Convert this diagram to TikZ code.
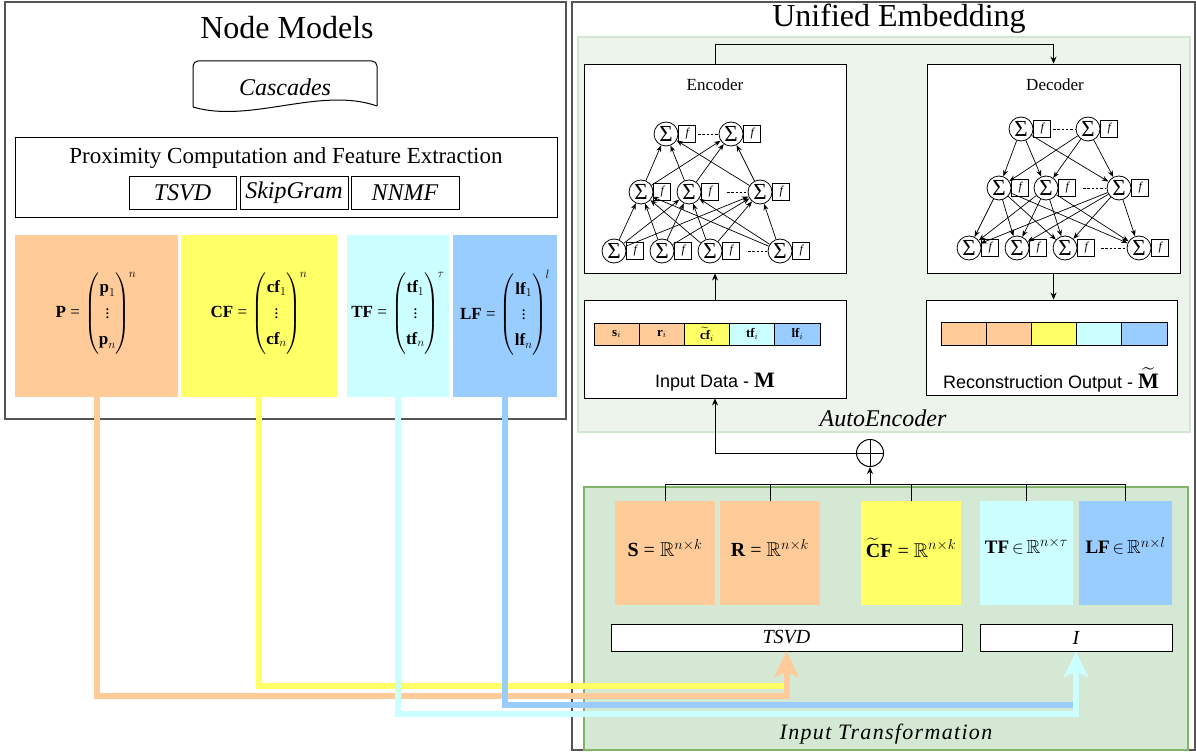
\documentclass[tikz,border=0pt]{standalone}
\usepackage{amsmath,amssymb}
\usepackage{fontspec}
\setmainfont{Liberation Serif}
\setsansfont{Liberation Sans}
\usetikzlibrary{arrows.meta}

\definecolor{cOr}{HTML}{FFCC99}
\definecolor{cYe}{HTML}{FFFF66}
\definecolor{cCy}{HTML}{CCFFFF}
\definecolor{cBl}{HTML}{99CCFF}
\definecolor{aeFill}{HTML}{ECF4EB}
\definecolor{aeLine}{HTML}{D2E5D0}
\definecolor{itFill}{HTML}{D5E8D4}
\definecolor{itLine}{HTML}{82B366}
\definecolor{frameGray}{HTML}{555555}

% rectangle node given by its corners: [style]{name}{x1}{y1}{x2}{y2}{text}
\newcommand\mybox[7][]{%
  \pgfmathsetmacro\mbW{#5-#3}%
  \pgfmathsetmacro\mbH{#6-#4}%
  \pgfmathsetmacro\mbX{(#3+#5)/2}%
  \pgfmathsetmacro\mbY{(#4+#6)/2}%
  \node[inner sep=0pt, minimum width=\mbW pt, minimum height=\mbH pt, #1] (#2) at (\mbX,\mbY) {#7};}

% summation unit followed by its activation box
\newcommand\snode[3]{%
  \node[sig] (#1) at (#2,#3) {Σ};
  \node[fbx] (#1f) at (#1.east) {f};}

\newcommand\bM{\textrm{\textbf{M}}}
\newcommand\eqs{\text{ = }}
% column vector in tight parentheses
\newcommand\colvec[3]{{\renewcommand\arraystretch{1.25}\left(\begin{array}{@{}c@{}}#1\\ \vdots\\ #2\end{array}\right)^{\!#3}}}

\tikzset{
  frame/.style={draw=frameGray, line width=1.3pt},
  plain/.style={draw=black, line width=0.9pt},
  sig/.style={circle, draw, fill=white, line width=0.8pt, minimum size=24pt, inner sep=0pt,
    font=\fontsize{23}{23}\selectfont},
  fbx/.style={draw, line width=0.6pt, minimum width=17pt, minimum height=17pt, inner sep=0pt,
    anchor=west, font=\fontsize{12}{12}\selectfont\itshape},
  nn/.style={-{Stealth[length=6.5pt,width=5pt]}, line width=0.7pt},
  flow/.style={-{Stealth[length=7pt,width=6pt]}, line width=0.9pt},
  dots/.style={line width=0.6pt, dash pattern=on 2.5pt off 1.8pt},
  feed/.style={line width=6pt},
  feedtip/.style={-{Stealth[length=26pt,width=25pt,inset=6pt,line width=0.5pt]}},
  mtx/.style={font=\fontsize{17}{20.5}\selectfont},
  rmtx/.style={font=\fontsize{20}{22}\selectfont},
  cell/.style={draw=black, line width=0.7pt, font=\fontsize{13}{13}\selectfont},
}

\begin{document}
\begin{tikzpicture}[x=1pt,y=-1pt]
\useasboundingbox (0,0) rectangle (1196,754);
\fill[white] (0,0) rectangle (1196,754);

%% ---------------- Node Models ----------------
\mybox[frame]{nm}{5}{2}{566}{419}{}
\node[font=\fontsize{32}{36}\selectfont] (nmT) at (287,28) {Node Models};

% document shape for the cascades
\draw[line width=1pt, rounded corners=5pt] (193,107) -- (193,61) -- (377,61) -- (377,106);
\draw[line width=1pt] (377,106) .. controls (320,86) and (250,124) .. (193,107);
\node[font=\fontsize{24}{28}\selectfont\itshape] (casc) at (285,87) {Cascades};

\mybox[plain]{prox}{15}{137}{557}{217}{}
\node[font=\fontsize{23}{26}\selectfont] (proxT) at (286,158) {Proximity Computation and Feature Extraction};
\mybox[plain, font=\fontsize{24}{26}\selectfont\itshape]{mTsvd}{129}{176}{236}{209}{TSVD}
\mybox[plain, font=\fontsize{24}{26}\selectfont\itshape]{mSkip}{240}{176}{348}{209}{SkipGram}
\mybox[plain, font=\fontsize{24}{26}\selectfont\itshape]{mNnmf}{351}{176}{459}{209}{NNMF}

\mybox[fill=cOr]{P}{15}{235}{178}{397}{}
\mybox[fill=cYe]{CF}{181}{235}{337}{397}{}
\mybox[fill=cCy]{TF}{347}{235}{449}{397}{}
\mybox[fill=cBl]{LF}{453}{235}{557}{397}{}
\node[mtx] (Pm) at (96,313) {$\textbf{P}\eqs\colvec{\textbf{p}_1}{\textbf{p}_n}{n}$};
\node[mtx] (CFm) at (259,313) {$\textbf{CF}\eqs\colvec{\textbf{cf}_1}{\textbf{cf}_n}{n}$};
\node[mtx] (TFm) at (398,313) {$\textbf{TF}\eqs\colvec{\textbf{tf}_1}{\textbf{tf}_n}{\tau}$};
\node[mtx] (LFm) at (505,313) {$\textbf{LF}\eqs\colvec{\textbf{lf}_1}{\textbf{lf}_n}{l}$};

%% ---------------- Unified Embedding ----------------
\mybox[frame]{ue}{572}{2}{1195}{750}{}
\node[font=\fontsize{32}{36}\selectfont] (ueT) at (899,19) {Unified Embedding};

\mybox[draw=aeLine, fill=aeFill, line width=1.5pt]{ae}{578}{37}{1190}{432}{}
\node[font=\fontsize{24}{28}\selectfont\itshape] (aeT) at (883,418) {AutoEncoder};

% encoder
\mybox[plain, fill=white]{enc}{584}{64}{846}{273}{}
\node[font=\fontsize{17}{20}\selectfont] (encT) at (715,85) {Encoder};
\snode{et1}{666}{134}
\snode{et2}{731}{134}
\snode{em1}{641}{192}
\snode{em2}{689}{192}
\snode{em3}{760}{192}
\snode{eb1}{614}{251}
\snode{eb2}{662}{251}
\snode{eb3}{710}{251}
\snode{eb4}{780}{251}
\foreach \a in {1,...,4}{\foreach \b in {1,2,3}{\draw[nn] (eb\a) -- (em\b);}}
\foreach \a in {1,2,3}{\foreach \b in {1,2}{\draw[nn] (em\a) -- (et\b);}}
\draw[dots, shorten <=2pt] (et1f.east) -- (et2.west);
\draw[dots, shorten <=8pt, shorten >=2pt] (em2f.east) -- (em3.west);
\draw[dots, shorten <=8pt, shorten >=1pt] (eb3f.east) -- (eb4.west);

% decoder
\mybox[plain, fill=white]{dec}{927}{64}{1180}{273}{}
\node[font=\fontsize{17}{20}\selectfont] (decT) at (1055,85) {Decoder};
\snode{dt1}{1021}{129}
\snode{dt2}{1088}{129}
\snode{dm1}{999}{188}
\snode{dm2}{1046}{188}
\snode{dm3}{1119}{188}
\snode{db1}{969}{248}
\snode{db2}{1017}{248}
\snode{db3}{1065}{248}
\snode{db4}{1139}{248}
\foreach \a in {1,2}{\foreach \b in {1,2,3}{\draw[nn] (dt\a) -- (dm\b);}}
\foreach \a in {1,2,3}{\foreach \b in {1,...,4}{\draw[nn] (dm\a) -- (db\b);}}
\draw[dots, shorten <=2pt] (dt1f.east) -- (dt2.west);
\draw[dots, shorten <=7pt, shorten >=2pt] (dm2f.east) -- (dm3.west);
\draw[dots, shorten <=6pt, shorten >=2pt] (db3f.east) -- (db4.west);

% input data
\mybox[plain, fill=white]{inp}{584}{300}{846}{398}{}
\mybox[cell, fill=cOr]{ic1}{594}{323}{639.2}{345}{$\textbf{s}_i$}
\mybox[cell, fill=cOr]{ic2}{639.2}{323}{684.4}{345}{$\textbf{r}_i$}
\mybox[cell, fill=cYe]{ic3}{684.4}{323}{729.6}{345}{$\widetilde{\textbf{cf}}_i$}
\mybox[cell, fill=cCy]{ic4}{729.6}{323}{774.8}{345}{$\textbf{tf}_i$}
\mybox[cell, fill=cBl]{ic5}{774.8}{323}{820}{345}{$\textbf{lf}_i$}
\node[font=\sffamily\fontsize{18}{22}\selectfont] (inpT) at (715,382) {Input Data - {\fontsize{22}{22}\selectfont\bM}};

% reconstruction output
\mybox[plain, fill=white]{rec}{926}{300}{1177}{395}{}
\mybox[cell, fill=cOr]{rc1}{941}{322}{986.2}{345}{}
\mybox[cell, fill=cOr]{rc2}{986.2}{322}{1031.4}{345}{}
\mybox[cell, fill=cYe]{rc3}{1031.4}{322}{1076.6}{345}{}
\mybox[cell, fill=cCy]{rc4}{1076.6}{322}{1121.8}{345}{}
\mybox[cell, fill=cBl]{rc5}{1121.8}{322}{1167}{345}{}
\node[font=\sffamily\fontsize{18}{22}\selectfont] (recT) at (1051,380) {Reconstruction Output - {\fontsize{22}{22}\selectfont$\widetilde{\bM}$}};

% autoencoder flow
\draw[flow] (inp.north) -- (enc.south);
\draw[flow] (enc.north) -- ++(0,-19) -| (dec.north);
\draw[flow] (dec.south) -- (dec.south |- rec.north);

%% ---------------- Input Transformation ----------------
\mybox[draw=itLine, fill=itFill, line width=1.2pt]{itr}{584}{487}{1188}{750}{}
\node[font=\fontsize{22}{26}\selectfont\itshape\addfontfeatures{LetterSpace=6}] (itrT) at (886,734) {Input Transformation};

\mybox[fill=cOr]{S}{615}{501}{715}{605}{}
\mybox[fill=cOr]{R}{720}{501}{820}{605}{}
\mybox[fill=cYe]{CFt}{861}{501}{961}{605}{}
\mybox[fill=cCy]{TFt}{980}{501}{1073}{605}{}
\mybox[fill=cBl]{LFt}{1079}{501}{1172}{605}{}
\node[rmtx] (Sm) at (665,548) {$\textbf{S}\eqs\mathbb{R}^{n{\times}k}$};
\node[rmtx] (Rm) at (770,548) {$\textbf{R}\eqs\mathbb{R}^{n{\times}k}$};
\node[rmtx] (CFtm) at (911,548) {$\widetilde{\textbf{C}}\textbf{F}\eqs\mathbb{R}^{n{\times}k}$};
\node[rmtx, font=\fontsize{19}{22}\selectfont] (TFtm) at (1026.5,546) {$\textbf{TF}\,{\in}\,\mathbb{R}^{n{\times}\tau}$};
\node[rmtx, font=\fontsize{19}{22}\selectfont] (LFtm) at (1125.5,546) {$\textbf{LF}\,{\in}\,\mathbb{R}^{n{\times}l}$};

\mybox[plain, fill=white, font=\fontsize{20}{24}\selectfont\itshape]{tsvd}{611}{624}{962}{651}{TSVD}
\mybox[plain, fill=white, font=\fontsize{20}{24}\selectfont\itshape]{ibox}{980}{624}{1172}{651}{I}

% combination of the transformed inputs
\node[circle, draw, line width=1pt, minimum size=27pt, inner sep=0pt] (op) at (870,453) {};
\draw[line width=1pt] (op.north) -- (op.south) (op.west) -- (op.east);
\coordinate (busc) at (870,484);
\draw[line width=0.9pt] (S.north) -- (S.north |- busc) -- (LFt.north |- busc) -- (LFt.north);
\draw[line width=0.9pt] (R.north) -- (R.north |- busc);
\draw[line width=0.9pt] (CFt.north) -- (CFt.north |- busc);
\draw[line width=0.9pt] (TFt.north) -- (TFt.north |- busc);
\draw[flow] (busc) -- (op.south);
\draw[flow] (op.west) -| (inp.south);

%% ---------------- feature feeds ----------------
\coordinate (yY) at (0,686);
\coordinate (yO) at (0,696);
\coordinate (yB) at (0,705);
\coordinate (yC) at (0,714);
\draw[feed, cYe] (CF.south) -- (CF.south |- yY) -- (tsvd.south |- yY);
\draw[feed, cOr, feedtip] (P.south) -- (P.south |- yO) -| (tsvd.south);
\draw[feed, cBl] (LF.south) -- (LF.south |- yB) -- (ibox.south |- yB);
\draw[feed, cCy, feedtip] (TF.south) -- (TF.south |- yC) -| (ibox.south);
\end{tikzpicture}
\end{document}
